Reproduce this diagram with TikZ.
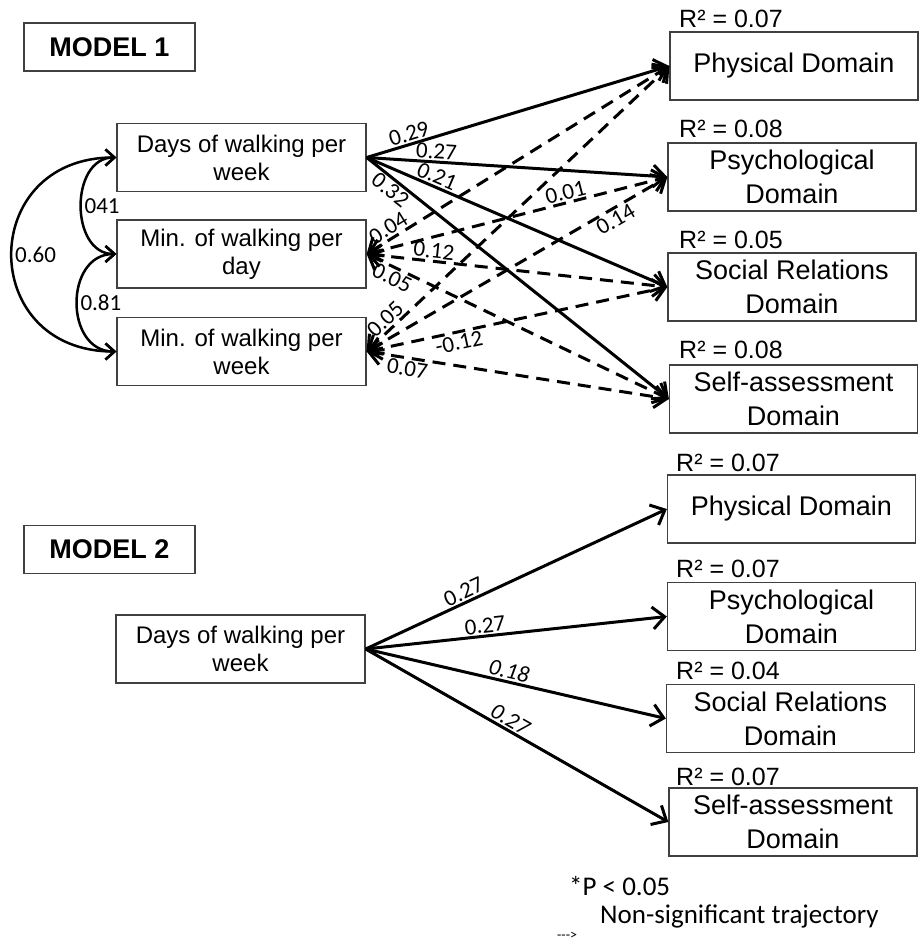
\documentclass[tikz,border=0pt]{standalone}
\usepackage{fontspec}
\setmainfont{Liberation Sans}
\newfontfamily\calfont{Carlito}
\usetikzlibrary{arrows.meta}
\begin{document}
\begin{tikzpicture}[x=1pt,y=-1pt,
 box/.style={draw=black!75,line width=1.3pt,minimum height=68pt,align=center,inner sep=0pt},
 lbox/.style={box,minimum width=249pt,font=\fontsize{24}{28}\selectfont},
 rbox/.style={box,minimum width=248pt,font=\fontsize{27}{34}\selectfont},
 mbox/.style={draw=black!75,line width=1.3pt,minimum width=171pt,minimum height=48pt,inner sep=0pt,font=\fontsize{27}{32}\selectfont\bfseries},
 rsq/.style={anchor=base west,inner sep=0pt,font=\fontsize{25}{28}\selectfont},
 coef/.style={font=\calfont\fontsize{23}{26}\selectfont,inner sep=1.5pt,sloped},
 covlab/.style={font=\calfont\fontsize{23}{26}\selectfont,inner sep=2pt,anchor=west},
 tip/.tip={Straight Barb[length=12pt,width=22pt]},
 sig/.style={line width=3pt,-tip},
 ns/.style={line width=3pt,dash pattern=on 13pt off 8pt,tip-tip},
 cov/.style={line width=2.5pt,{Straight Barb[length=9pt,width=16pt]}-{Straight Barb[length=9pt,width=16pt]}},
 foot/.style={font=\calfont\fontsize{27}{32}\selectfont,anchor=base west,inner sep=0pt}]
\useasboundingbox (0,0) rectangle (921,944);
\fill[white] (0,0) rectangle (921,944);

% ---------- MODEL 1 ----------
\node[mbox] (m1) at (109.5,47) {MODEL 1};
\node[lbox] (d1) at (241.5,157.5) {Days of walking per\\week};
\node[lbox] (md) at (241.5,254) {Min. of walking per\\day};
\node[lbox] (mw) at (241.5,351.5) {Min. of walking per\\week};

\node[rbox] (p1) at (794,66) {Physical Domain};
\node[rbox] (s1) at (792,177) {Psychological\\Domain};
\node[rbox] (r1) at (792,287) {Social Relations\\Domain};
\node[rbox] (a1) at (793.5,399) {Self-assessment\\Domain};

\node[rsq] (rp1) at (679,28) {R² = 0.07};
\node[rsq] (rs1) at (679,138) {R² = 0.08};
\node[rsq] (rr1) at (679,248) {R² = 0.05};
\node[rsq] (ra1) at (679,358) {R² = 0.08};

% covariances
\draw[cov] (d1.west) to[out=180,in=180,looseness=1.24] node[covlab,pos=0.5] {041} (md.west);
\draw[cov] (md.west) to[out=180,in=180,looseness=1.37] node[covlab,pos=0.5] {0.81} (mw.west);
\draw[cov] (d1.west) to[out=180,in=180,looseness=1.84] node[covlab,pos=0.5] {0.60} (mw.west);

% non-significant paths
\draw[ns] (md.east) -- node[coef,pos=0.09,above] {0.04} (p1.west);
\draw[ns] (md.east) -- node[coef,pos=0.67,above] {0.01} (s1.west);
\draw[ns] (md.east) -- node[coef,pos=0.22,above] {0.12} (r1.west);
\draw[ns] (md.east) -- node[coef,pos=0.10,below] {0.05} (a1.west);
\draw[ns] (mw.east) -- node[coef,pos=0.085,above] {0.05} (p1.west);
\draw[ns] (mw.east) -- node[coef,pos=0.81,below] {0.14} (s1.west);
\draw[ns] (mw.east) -- node[coef,pos=0.30,below] {-0.12} (r1.west);
\draw[ns] (mw.east) -- node[coef,pos=0.14,below] {0.07} (a1.west);

% significant paths
\draw[sig] (d1.east) -- node[coef,pos=0.15,above] {0.29} (p1.west);
\draw[sig] (d1.east) -- node[coef,pos=0.23,above] {0.27} (s1.west);
\draw[sig] (d1.east) -- node[coef,pos=0.22,above] {0.21} (r1.west);
\draw[sig] (d1.east) -- node[coef,pos=0.10,below] {0.32} (a1.west);

% ---------- MODEL 2 ----------
\node[mbox] (m2) at (109.5,549.5) {MODEL 2};
\node[lbox] (d2) at (240.5,649) {Days of walking per\\week};

\node[rbox] (p2) at (791.5,509) {Physical Domain};
\node[rbox] (s2) at (791.5,616.5) {Psychological\\Domain};
\node[rbox] (r2) at (790.5,718.5) {Social Relations\\Domain};
\node[rbox] (a2) at (793,822) {Self-assessment\\Domain};

\node[rsq] (rp2) at (676,471) {R² = 0.07};
\node[rsq] (rs2) at (676,577) {R² = 0.07};
\node[rsq] (rr2) at (676,679) {R² = 0.04};
\node[rsq] (ra2) at (676,785) {R² = 0.07};

\draw[sig] (d2.east) -- node[coef,pos=0.34,above] {0.27} (p2.west);
\draw[sig] (d2.east) -- node[coef,pos=0.40,above] {0.27} (s2.west);
\draw[sig] (d2.east) -- node[coef,pos=0.47,above] {\itshape 0.18} (r2.west);
\draw[sig] (d2.east) -- node[coef,pos=0.46,above] {\itshape 0.27} (a2.west);

% ---------- legend ----------
\node[foot] (pv) at (569,895) {*P < 0.05};
\node[foot] (nst) at (600,923) {Non-significant trajectory};
\node[font=\calfont\fontsize{14}{16}\selectfont,anchor=base west,inner sep=0pt] (dsh) at (557,939) {--{}-{}>};
\end{tikzpicture}
\end{document}
